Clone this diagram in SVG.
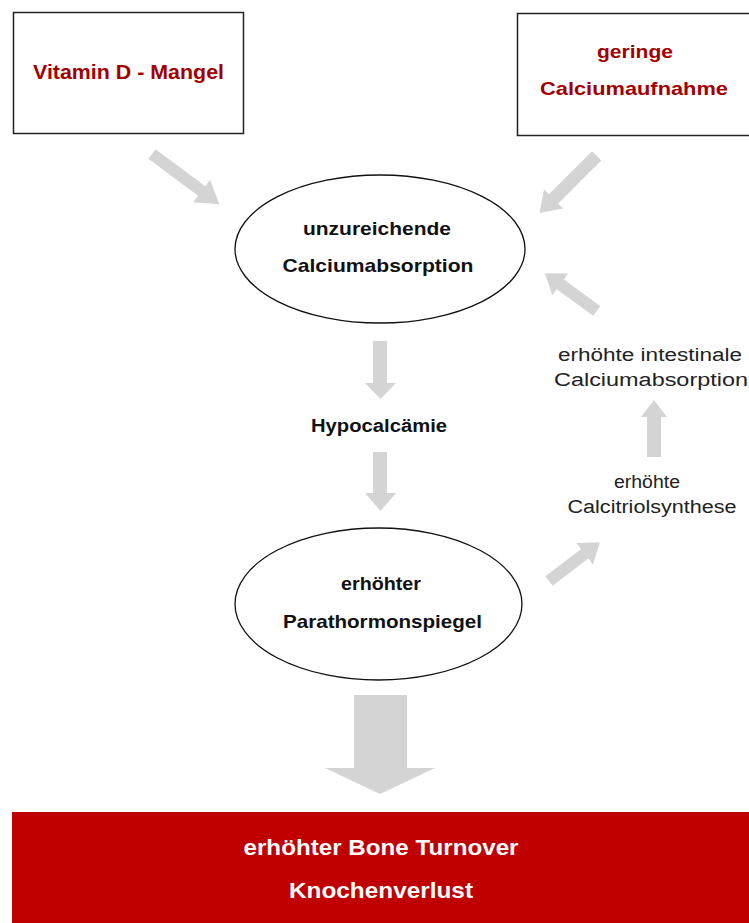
<svg xmlns="http://www.w3.org/2000/svg" width="749" height="923" viewBox="0 0 749 923">
<style>
.box{fill:#fff;stroke:#222;stroke-width:1.5}
.ell{fill:#fff;stroke:#111;stroke-width:1.3}
.arr{fill:#d4d4d4;stroke:none}
.red{font-family:"Liberation Sans",Arial,sans-serif;font-weight:bold;fill:#a20000;text-anchor:middle}
.blk{font-family:"Liberation Sans",Arial,sans-serif;font-weight:bold;fill:#111;text-anchor:middle}
.reg{font-family:"Liberation Sans",Arial,sans-serif;fill:#222;text-anchor:middle}
.wht{font-family:"Liberation Sans Narrow","Liberation Sans",Arial,sans-serif;font-weight:bold;fill:#fff;text-anchor:middle}
</style>
<rect width="749" height="923" fill="#fff"/>
<g id="connectors">
<path class="arr" transform="translate(152,154) rotate(36.7)" d="M0,-6 H62 V-14 L84,0 L62,14 V6 H0 Z"/>
<path class="arr" transform="translate(596.7,155.8) rotate(135)" d="M0,-6.5 H61 V-13.5 L81,0 L61,13.5 V6.5 H0 Z"/>
<path class="arr" transform="translate(596.7,310.8) rotate(-144)" d="M0,-6 H45 V-13.5 L64,0 L45,13.5 V6 H0 Z"/>
<path class="arr" transform="translate(549,581) rotate(-37.4)" d="M0,-6 H45 V-13.5 L64,0 L45,13.5 V6 H0 Z"/>
<polygon class="arr" points="373,341 387,341 387,383 396,383 380.5,399 365,383 373,383"/>
<polygon class="arr" points="373,452 387,452 387,493 396,493 380.5,511 365,493 373,493"/>
<polygon class="arr" points="647,457 661,457 661,417 667,417 654,400 641,417 647,417"/>
<polygon class="arr" points="354,695 407,695 407,768 435,768 380,794 325,768 354,768"/>
</g>
<g id="vitamin-d">
<rect class="box" x="13.5" y="12.5" width="230" height="121"/>
<text class="red" x="128.5" y="79" font-size="19.5" textLength="191" lengthAdjust="spacingAndGlyphs">Vitamin D - Mangel</text>
</g>
<g id="geringe">
<rect class="box" x="517.5" y="13.5" width="236" height="122"/>
<text class="red" x="635" y="58" font-size="18.5" textLength="76" lengthAdjust="spacingAndGlyphs">geringe</text>
<text class="red" x="634" y="94.5" font-size="18.5" textLength="188" lengthAdjust="spacingAndGlyphs">Calciumaufnahme</text>
</g>
<g id="absorption">
<ellipse class="ell" cx="380" cy="249" rx="145" ry="74"/>
<text class="blk" x="377" y="235" font-size="18.5" textLength="148" lengthAdjust="spacingAndGlyphs">unzureichende</text>
<text class="blk" x="378" y="272" font-size="18.5" textLength="191" lengthAdjust="spacingAndGlyphs">Calciumabsorption</text>
</g>
<g id="hypocalcaemie">
<text class="blk" x="379" y="432" font-size="18" textLength="136" lengthAdjust="spacingAndGlyphs">Hypocalcämie</text>
</g>
<g id="parathormon">
<ellipse class="ell" cx="378.5" cy="604" rx="143.5" ry="76"/>
<text class="blk" x="381" y="589.5" font-size="18.5" textLength="80" lengthAdjust="spacingAndGlyphs">erhöhter</text>
<text class="blk" x="382.5" y="627.5" font-size="18.5" textLength="199" lengthAdjust="spacingAndGlyphs">Parathormonspiegel</text>
</g>
<g id="intestinale">
<text class="reg" x="650" y="361" font-size="18" textLength="184" lengthAdjust="spacingAndGlyphs">erhöhte intestinale</text>
<text class="reg" x="651" y="385.5" font-size="18" textLength="194" lengthAdjust="spacingAndGlyphs">Calciumabsorption</text>
</g>
<g id="calcitriol">
<text class="reg" x="647" y="487.5" font-size="18" textLength="66" lengthAdjust="spacingAndGlyphs">erhöhte</text>
<text class="reg" x="652" y="512.5" font-size="18" textLength="169" lengthAdjust="spacingAndGlyphs">Calcitriolsynthese</text>
</g>
<g id="knochenverlust">
<rect x="12" y="812" width="740" height="115" fill="#c00000"/>
<text class="wht" x="381" y="855" font-size="21.5" textLength="275" lengthAdjust="spacingAndGlyphs">erhöhter Bone Turnover</text>
<text class="wht" x="381" y="897.5" font-size="21.5" textLength="184" lengthAdjust="spacingAndGlyphs">Knochenverlust</text>
</g>
</svg>
